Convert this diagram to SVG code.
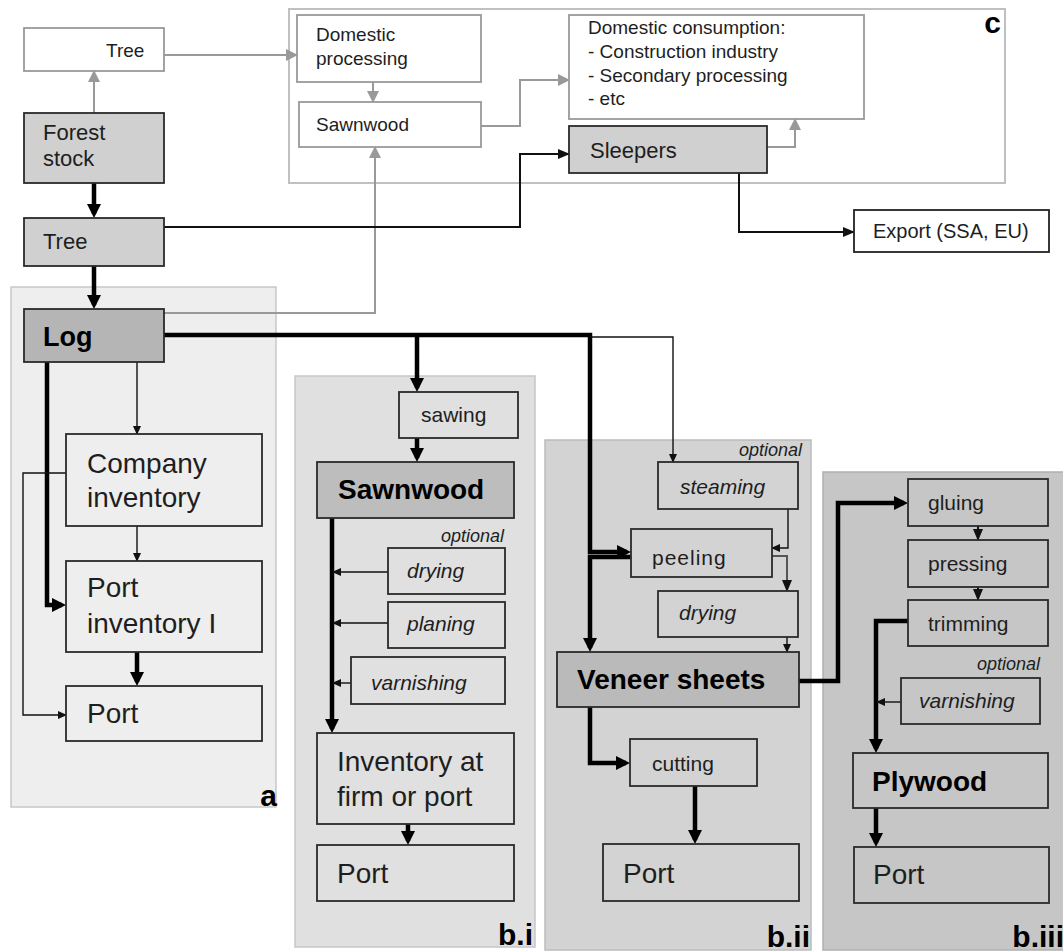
<svg xmlns="http://www.w3.org/2000/svg" width="1063" height="951" viewBox="0 0 1063 951">
<style>
.t{font-family:"Liberation Sans",Arial,sans-serif;fill:#1e1e1e}
.b{font-weight:bold;fill:#000}
.i{font-style:italic}
.lbl{font-family:"Liberation Sans",Arial,sans-serif;font-weight:bold;font-size:30px;fill:#000;text-anchor:end}
.opt{font-family:"Liberation Sans",Arial,sans-serif;font-style:italic;font-size:18px;fill:#1e1e1e;text-anchor:end}
.box{stroke:#2a2a2a;stroke-width:1.8}
.gbox{fill:#fff;stroke:#999;stroke-width:1.8}
.dark{fill:#d0d0d0}
.thick{fill:none;stroke:#000;stroke-width:4.5;marker-end:url(#ahT)}
.thin{fill:none;stroke:#111;stroke-width:1.4;marker-end:url(#ahS)}
.med{fill:none;stroke:#111;stroke-width:2;marker-end:url(#ahM)}
.gray{fill:none;stroke:#999;stroke-width:2;marker-end:url(#ahG)}
</style>
<defs>
<marker id="ahT" markerUnits="userSpaceOnUse" viewBox="0 0 14 14" markerWidth="14" markerHeight="14" refX="10" refY="7" orient="auto"><path d="M0,0 L14,7 L0,14 z" fill="#000"/></marker>
<marker id="ahM" markerUnits="userSpaceOnUse" viewBox="0 0 12 12" markerWidth="12" markerHeight="12" refX="11" refY="6" orient="auto"><path d="M0,1 L12,6 L0,11 z" fill="#111"/></marker>
<marker id="ahS" markerUnits="userSpaceOnUse" viewBox="0 0 9 9" markerWidth="9" markerHeight="9" refX="8" refY="4.5" orient="auto"><path d="M0,0.5 L9,4.5 L0,8.5 z" fill="#111"/></marker>
<marker id="ahG" markerUnits="userSpaceOnUse" viewBox="0 0 12 12" markerWidth="12" markerHeight="12" refX="11" refY="6" orient="auto"><path d="M0,0 L12,6 L0,12 z" fill="#999"/></marker>
</defs>
<rect width="1063" height="951" fill="#fff"/>

<g id="panels">
<g id="panel-c"><rect x="289" y="9" width="716" height="174" fill="#fff" stroke="#c0c0c0" stroke-width="2"/><text class="lbl" x="1001" y="33">c</text></g>
<g id="panel-a"><rect x="11" y="287" width="265" height="520" fill="#eeeeee" stroke="#c8c8c8" stroke-width="1.5"/><text class="lbl" x="277" y="806">a</text></g>
<g id="panel-bi"><rect x="295" y="376" width="240" height="571" fill="#e0e0e0" stroke="#c6c6c6" stroke-width="1.5"/><text class="lbl" x="533" y="945">b.i</text></g>
<g id="panel-bii"><rect x="545" y="440" width="266" height="510" fill="#d3d3d3" stroke="#bcbcbc" stroke-width="1.5"/><text class="lbl" x="810" y="947">b.ii</text></g>
<g id="panel-biii"><rect x="823" y="472" width="250" height="478" fill="#c6c6c6" stroke="#b0b0b0" stroke-width="1.5"/><text class="lbl" x="1064" y="947">b.iii</text></g>
</g>

<g id="connectors">
<path class="gray" d="M94,113 V71"/>
<path class="gray" d="M164,55 H297"/>
<path class="gray" d="M373,82 V102"/>
<path class="gray" d="M481,126 H520 V80 H569"/>
<path class="gray" d="M164,313 H375 V147"/>
<path class="gray" d="M767,147 H795 V119"/>
<path class="med" d="M164,227 H520 V154 H569"/>
<path class="med" d="M739,173 V232 H854"/>
<path class="thick" d="M94,183 V214"/>
<path class="thick" d="M94,266 V305"/>
<path class="thick" d="M164,335 H590 V552 H627"/>
<path class="thick" d="M417,335 V388"/>
<path class="thin" d="M590,337 H673 V462"/>
<path class="thick" d="M47,362 V605 H62"/>
<path class="thin" d="M137,362 V434"/>
<path class="thin" d="M137,526 V561"/>
<path class="thick" d="M137,652 V682"/>
<path class="thin" d="M66,473 H23 V715 H66"/>
<path class="thick" d="M417,438 V458"/>
<path class="thick" d="M332,518 V729"/>
<path class="thin" d="M388,572 H333"/>
<path class="thin" d="M388,623 H333"/>
<path class="thin" d="M351,683 H333"/>
<path class="thick" d="M408,824 V841"/>
<path class="thick" d="M631,557 H590 V648"/>
<path class="thin" d="M788,509 V548 H772"/>
<path class="med" style="stroke:#555" d="M772,556 H787 V591"/>
<path class="thin" d="M787,637 V652"/>
<path class="thick" d="M590,707 V763 H626"/>
<path class="thick" d="M695,786 V840"/>
<path class="thick" d="M799,681 H838 V503 H904"/>
<path class="med" d="M978,526 V540"/>
<path class="med" d="M978,587 V600"/>
<path class="thick" d="M908,621 H876 V749"/>
<path class="thin" d="M901,702 H877"/>
<path class="thick" d="M876,808 V843"/>
</g>

<g id="tree-top"><rect class="gbox" x="24" y="28" width="140" height="43"/><text class="t" x="106" y="57" font-size="19">Tree</text></g>
<g id="forest-stock"><rect class="box dark" x="24" y="113" width="140" height="70"/><text class="t" font-size="22"><tspan x="43" y="140">Forest</tspan><tspan x="43" y="166">stock</tspan></text></g>
<g id="tree"><rect class="box dark" x="24" y="218" width="140" height="48"/><text class="t" x="43" y="249" font-size="22">Tree</text></g>
<g id="log"><rect class="box" fill="#b5b5b5" x="24" y="309" width="140" height="53"/><text class="t b" x="43" y="346" font-size="27">Log</text></g>

<g id="domestic-processing"><rect class="gbox" x="297" y="15" width="184" height="67"/><text class="t" font-size="19"><tspan x="316" y="41">Domestic</tspan><tspan x="316" y="65">processing</tspan></text></g>
<g id="sawnwood-domestic"><rect class="gbox" x="299" y="102" width="182" height="45"/><text class="t" x="316" y="131" font-size="19">Sawnwood</text></g>
<g id="domestic-consumption"><rect class="gbox" x="569" y="15" width="295" height="104"/><text class="t" font-size="19"><tspan x="588" y="34">Domestic consumption:</tspan><tspan x="588" y="58">- Construction industry</tspan><tspan x="588" y="82">- Secondary processing</tspan><tspan x="588" y="105">- etc</tspan></text></g>
<g id="sleepers"><rect class="box dark" x="569" y="126" width="198" height="47"/><text class="t" x="590" y="158" font-size="22">Sleepers</text></g>
<g id="export"><rect fill="#fff" stroke="#222" stroke-width="1.8" x="854" y="210" width="195" height="42"/><text class="t" x="873" y="238" font-size="20">Export (SSA, EU)</text></g>

<g id="company-inventory"><rect class="box" fill="#eeeeee" x="66" y="434" width="196" height="92"/><text class="t" font-size="28"><tspan x="87" y="473">Company</tspan><tspan x="87" y="507">inventory</tspan></text></g>
<g id="port-inventory"><rect class="box" fill="#eeeeee" x="66" y="561" width="196" height="91"/><text class="t" font-size="28"><tspan x="87" y="597">Port</tspan><tspan x="87" y="633">inventory I</tspan></text></g>
<g id="port-a"><rect class="box" fill="#eeeeee" x="66" y="686" width="196" height="55"/><text class="t" x="87" y="723" font-size="28">Port</text></g>

<g id="sawing"><rect class="box" fill="#e0e0e0" x="399" y="392" width="119" height="46"/><text class="t" x="421" y="422" font-size="21">sawing</text></g>
<g id="sawnwood"><rect class="box" fill="#bdbdbd" x="317" y="462" width="197" height="56"/><text class="t b" x="338" y="499" font-size="28">Sawnwood</text></g>
<text class="opt" x="504" y="542">optional</text>
<g id="drying-bi"><rect class="box" fill="#e0e0e0" x="388" y="548" width="117" height="46"/><text class="t i" x="407" y="578" font-size="21">drying</text></g>
<g id="planing"><rect class="box" fill="#e0e0e0" x="388" y="602" width="117" height="46"/><text class="t i" x="407" y="631" font-size="21">planing</text></g>
<g id="varnishing-bi"><rect class="box" fill="#e0e0e0" x="351" y="657" width="154" height="47"/><text class="t i" x="371" y="690" font-size="21">varnishing</text></g>
<g id="inventory-firm-port"><rect class="box" fill="#e0e0e0" x="317" y="733" width="197" height="91"/><text class="t" font-size="28"><tspan x="337" y="771">Inventory at</tspan><tspan x="337" y="806">firm or port</tspan></text></g>
<g id="port-bi"><rect class="box" fill="#e0e0e0" x="317" y="845" width="197" height="56"/><text class="t" x="337" y="883" font-size="28">Port</text></g>

<text class="opt" x="802" y="456">optional</text>
<g id="steaming"><rect class="box" fill="#d3d3d3" x="658" y="462" width="140" height="47"/><text class="t i" x="680" y="494" font-size="21">steaming</text></g>
<g id="peeling"><rect class="box" fill="#d3d3d3" x="631" y="529" width="141" height="48"/><text class="t" x="652" y="565" font-size="21" letter-spacing="1">peeling</text></g>
<g id="drying-bii"><rect class="box" fill="#d3d3d3" x="658" y="591" width="140" height="46"/><text class="t i" x="679" y="620" font-size="21">drying</text></g>
<g id="veneer-sheets"><rect class="box" fill="#bababa" x="557" y="652" width="242" height="55"/><text class="t b" x="577" y="689" font-size="28">Veneer sheets</text></g>
<g id="cutting"><rect class="box" fill="#d3d3d3" x="630" y="739" width="127" height="47"/><text class="t" x="652" y="771" font-size="21">cutting</text></g>
<g id="port-bii"><rect class="box" fill="#d3d3d3" x="603" y="844" width="196" height="57"/><text class="t" x="623" y="883" font-size="28">Port</text></g>

<g id="gluing"><rect class="box" fill="#c6c6c6" x="908" y="479" width="140" height="47"/><text class="t" x="928" y="510" font-size="21">gluing</text></g>
<g id="pressing"><rect class="box" fill="#c6c6c6" x="908" y="540" width="140" height="47"/><text class="t" x="928" y="571" font-size="21">pressing</text></g>
<g id="trimming"><rect class="box" fill="#c6c6c6" x="908" y="600" width="140" height="46"/><text class="t" x="928" y="631" font-size="21">trimming</text></g>
<text class="opt" x="1040" y="670">optional</text>
<g id="varnishing-biii"><rect class="box" fill="#c6c6c6" x="901" y="678" width="139" height="46"/><text class="t i" x="919" y="708" font-size="21">varnishing</text></g>
<g id="plywood"><rect class="box" fill="#c6c6c6" x="853" y="753" width="195" height="55"/><text class="t b" x="872" y="791" font-size="28">Plywood</text></g>
<g id="port-biii"><rect class="box" fill="#c6c6c6" x="854" y="847" width="195" height="56"/><text class="t" x="873" y="884" font-size="28">Port</text></g>
</svg>
